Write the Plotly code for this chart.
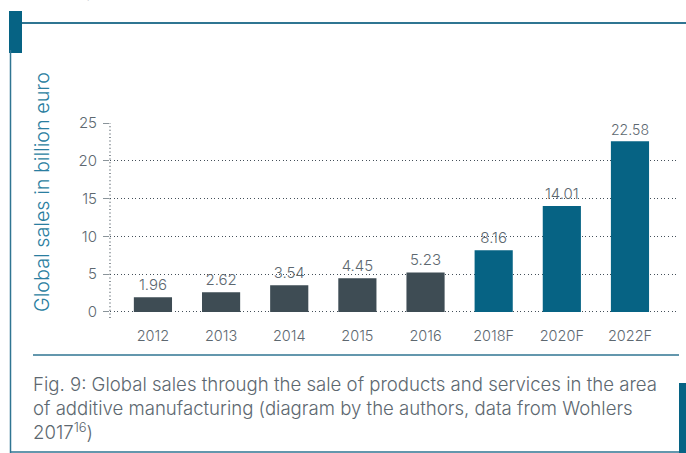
import plotly.graph_objects as go

categories = ["2012", "2013", "2014", "2015", "2016", "2018F", "2020F", "2022F"]
sales = [1.96, 2.62, 3.54, 4.45, 5.23, 8.16, 14.01, 22.58]
label_texts = ["1.96", "2.62", "3.54", "4.45", "5.23", "8.16", "14.01", "22.58"]
is_forecast = [False, False, False, False, False, True, True, True]
y_ticks = [0, 5, 10, 15, 20, 25]
caption_lines = [
    "Fig. 9: Global sales through the sale of products and services in the area",
    "of additive manufacturing (diagram by the authors, data from Wohlers",
    "2017<sup>16</sup>)",
]

W, H = 686, 453
L, R, T, B = 110, 677, 123, 318  # plot area in pixels

DARK = "#3e4c54"
TEAL = "#066384"
TEXT = "#5d6870"
FRAME = "#2f7592"
GRID = "#44505a"
DOTS = "1px,2.6px"
FONT = "Inter"
WT = 300


def px(xp):
    return (xp - L) / (R - L)


def py(yp):
    return (B - yp) / (B - T)


colors = [TEAL if f else DARK for f in is_forecast]

fig = go.Figure(
    go.Bar(
        x=categories,
        y=sales,
        marker=dict(color=colors, line=dict(width=0)),
        width=0.56,
        text=label_texts,
        textposition="outside",
        textfont=dict(family=FONT, size=15, color=TEXT, weight=WT),
        cliponaxis=False,
        hoverinfo="skip",
    )
)

shapes = [
    dict(type="line", xref="paper", yref="paper", x0=0, x1=0, y0=0, y1=1,
         line=dict(color=GRID, width=1.2, dash=DOTS)),
    dict(type="line", xref="paper", yref="paper", x0=px(20), x1=px(690), y0=py(23), y1=py(23),
         line=dict(color=FRAME, width=2)),
    dict(type="rect", xref="paper", yref="paper", x0=px(9), x1=px(22), y0=py(11), y1=py(53),
         fillcolor=TEAL, line=dict(width=0)),
    dict(type="line", xref="paper", yref="paper", x0=px(10.5), x1=px(10.5), y0=py(50), y1=py(453),
         line=dict(color=FRAME, width=1.5)),
    dict(type="line", xref="paper", yref="paper", x0=px(10), x1=px(680), y0=py(452), y1=py(452),
         line=dict(color=FRAME, width=1.5)),
    dict(type="line", xref="paper", yref="paper", x0=px(33), x1=px(679), y0=py(355), y1=py(355),
         line=dict(color=FRAME, width=1.5)),
    dict(type="rect", xref="paper", yref="paper", x0=px(679), x1=px(690), y0=py(383), y1=py(460),
         fillcolor=TEAL, line=dict(width=0)),
]

annotations = [
    dict(text="Global sales in billion euro", xref="paper", yref="paper",
         x=px(42), y=py(192), textangle=-90, showarrow=False,
         font=dict(family=FONT, size=19.8, color="#2a7ea0", weight=WT),
         xanchor="center", yanchor="middle"),
    dict(text="in sales (percent), 2017)", xref="paper", yref="paper",
         x=px(14), y=py(3), xanchor="left", yanchor="bottom", showarrow=False,
         font=dict(family=FONT, size=17, color=TEXT, weight=WT)),
    dict(text="<br>".join(caption_lines), xref="paper", yref="paper",
         x=px(31), y=py(371), xanchor="left", yanchor="top", align="left",
         showarrow=False,
         font=dict(family=FONT, size=18.6, color=TEXT, weight=WT)),
]

fig.update_layout(
    width=W, height=H,
    margin=dict(l=L, r=W - R, t=T, b=H - B, pad=0),
    paper_bgcolor="white", plot_bgcolor="white",
    showlegend=False,
    shapes=shapes,
    annotations=annotations,
)

fig.update_xaxes(
    type="category",
    range=[-0.63, 7.69],
    showgrid=False, zeroline=False, showline=False,
    ticks="", tickfont=dict(family=FONT, size=14.5, color=TEXT, weight=WT),
    ticklabelstandoff=7,
    fixedrange=True,
)
fig.update_yaxes(
    range=[-0.8, 25],
    tickvals=y_ticks,
    ticktext=[str(v) for v in y_ticks],
    showgrid=True, gridcolor=GRID, gridwidth=1.2, griddash=DOTS,
    zeroline=False, showline=False,
    ticks="outside", ticklen=6, tickcolor="#8a949a", tickwidth=1,
    tickfont=dict(family=FONT, size=15, color=TEXT, weight=WT),
    ticklabelstandoff=3,
    fixedrange=True,
)

fig.write_html("out.html", config={"displayModeBar": False},
               post_script="document.body.style.margin='0';document.body.style.padding='0';")
